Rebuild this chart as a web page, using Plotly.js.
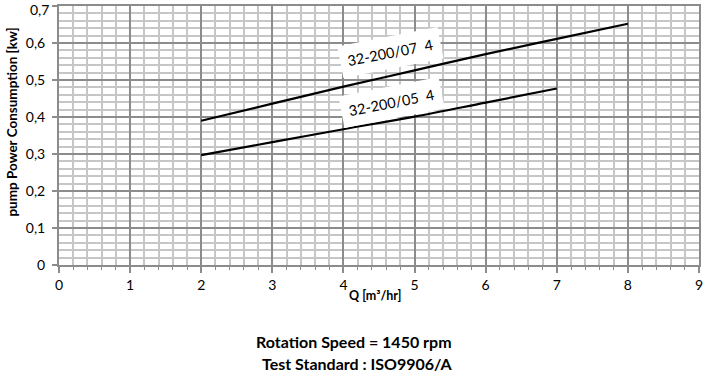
<!DOCTYPE html>
<html>
<head>
<meta charset="utf-8">
<script src="https://cdn.plot.ly/plotly-3.0.1.min.js"></script>
<style>html,body{margin:0;padding:0;background:#fff;}#chart{width:708px;height:379px;}</style>
</head>
<body>
<div id="chart"></div>
<script>
const q07 = [2, 3, 4, 5, 6, 7, 8];
const p07 = [0.390, 0.436, 0.482, 0.526, 0.570, 0.611, 0.652];
const q05 = [2, 3, 4, 5, 6, 7];
const p05 = [0.297, 0.332, 0.367, 0.401, 0.439, 0.477];
const seriesNames = ['32-200/07  4', '32-200/05  4'];
const xTicks = [0, 1, 2, 3, 4, 5, 6, 7, 8, 9];
const yTicks = [0, 0.1, 0.2, 0.3, 0.4, 0.5, 0.6, 0.7];
const yTickText = ['0', '0,1', '0,2', '0,3', '0,4', '0,5', '0,6', '0,7'];

const FONT = 'Lato, "Open Sans", sans-serif';
const major = '#8c8c8c';
const minor = '#c6c6c6';

const traces = [
  {x: q07, y: p07, mode: 'lines', name: seriesNames[0], line: {color: '#000', width: 2.2, shape: 'spline'}, hoverinfo: 'skip'},
  {x: q05, y: p05, mode: 'lines', name: seriesNames[1], line: {color: '#000', width: 2.2, shape: 'spline'}, hoverinfo: 'skip'}
];

const annotations = [
  {text: '<b>pump Power Consumption [kw]</b>', xref: 'paper', yref: 'paper', x: 0, y: 0.55, xshift: -47, textangle: -90,
   showarrow: false, font: {family: FONT, size: 13.5, color: '#000'}, xanchor: 'center', yanchor: 'middle'},
  {text: '<b>Q [m³/hr]</b>', xref: 'x', yref: 'paper', x: 4.05, y: -0.116, showarrow: false, xanchor: 'left', yanchor: 'middle',
   font: {family: FONT, size: 12.5, color: '#000'}},
  {text: '<b>Rotation Speed = 1450 rpm</b>', xref: 'paper', yref: 'paper', x: 0.461, y: (265 - 341) / 259, showarrow: false,
   xanchor: 'center', yanchor: 'middle', font: {family: FONT, size: 16, color: '#000'}},
  {text: '<b>Test Standard : ISO9906/A</b>', xref: 'paper', yref: 'paper', x: 0.467, y: (265 - 363) / 259, showarrow: false,
   xanchor: 'center', yanchor: 'middle', font: {family: FONT, size: 16, color: '#000'}},
  {text: seriesNames[0], xref: 'x', yref: 'y', x: 4.66, y: 0.573, showarrow: false, textangle: -11,
   bgcolor: '#fff', borderpad: 7, font: {family: FONT, size: 14.5, color: '#000'}},
  {text: seriesNames[1], xref: 'x', yref: 'y', x: 4.68, y: 0.44, showarrow: false, textangle: -11,
   bgcolor: '#fff', borderpad: 7, font: {family: FONT, size: 14.5, color: '#000'}},
  // top tick label that Plotly drops at the edge of the figure
  {text: yTickText[yTickText.length - 1], xref: 'paper', yref: 'y', x: 0, y: yTicks[yTicks.length - 1], xshift: -8, yshift: -3,
   xanchor: 'right', yanchor: 'middle', showarrow: false, font: {family: FONT, size: 14, color: '#000'}}
];

const layout = {
  width: 708, height: 379,
  margin: {l: 59, r: 9, t: 6, b: 114},
  paper_bgcolor: '#fff', plot_bgcolor: '#fff',
  showlegend: false,
  font: {family: FONT, size: 14, color: '#000'},
  xaxis: {
    range: [0, 9], tickvals: xTicks, ticktext: xTicks.map(String),
    showgrid: true, gridcolor: major, gridwidth: 2,
    showline: true, linecolor: major, linewidth: 2, mirror: true,
    ticks: 'outside', ticklen: 6, tickwidth: 2, tickcolor: major,
    minor: {dtick: 0.2, showgrid: true, gridcolor: minor, gridwidth: 2, ticks: 'outside', ticklen: 3, tickwidth: 1, tickcolor: major},
    zeroline: false, fixedrange: true,
    tickfont: {family: FONT, size: 14, color: '#000'}
  },
  yaxis: {
    range: [0, 0.7], tickvals: yTicks, ticktext: yTickText,
    showgrid: true, gridcolor: major, gridwidth: 2,
    showline: true, linecolor: major, linewidth: 2, mirror: true,
    ticks: 'outside', ticklen: 5, tickwidth: 2, tickcolor: major,
    ticklabelstandoff: 4,
    minor: {dtick: 0.02, showgrid: true, gridcolor: minor, gridwidth: 2},
    zeroline: false, fixedrange: true,
    tickfont: {family: FONT, size: 14, color: '#000'}
  },
  annotations: annotations
};

Plotly.newPlot('chart', traces, layout, {staticPlot: true, displayModeBar: false});
</script>
</body>
</html>
